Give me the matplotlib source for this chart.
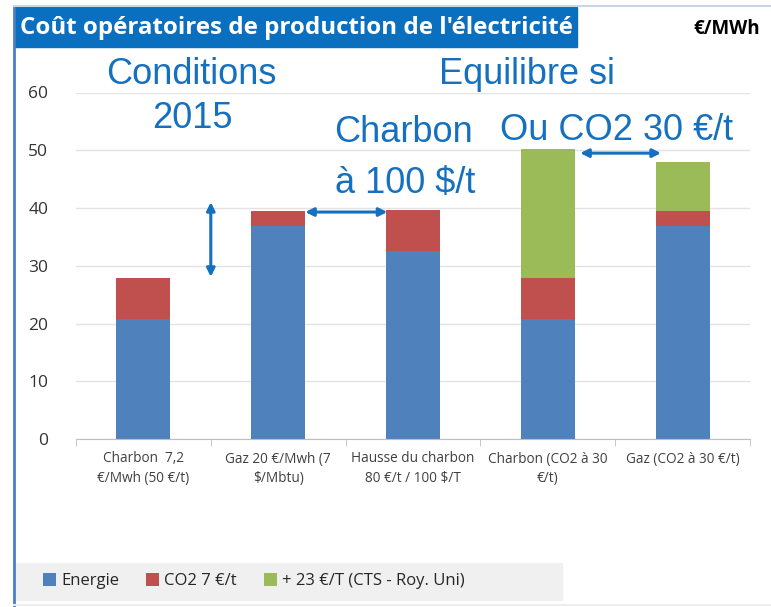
import matplotlib.pyplot as plt
import numpy as np
from matplotlib.patches import Rectangle
from matplotlib.lines import Line2D

# données (€/MWh)
categories = ["Charbon  7,2\n€/Mwh (50 €/t)", "Gaz 20 €/Mwh (7\n$/Mbtu)",
              "Hausse du charbon\n80 €/t / 100 $/T", "Charbon (CO2 à 30\n€/t)",
              "Gaz (CO2 à 30 €/t)"]
energie = [20.7, 36.8, 32.6, 20.7, 36.8]
co2_7 = [7.2, 2.7, 7.1, 7.2, 2.7]
co2_23 = [0, 0, 0, 22.4, 8.5]
series_labels = ["Energie", "CO2 7 €/t", "+ 23 €/T (CTS - Roy. Uni)"]
colors = ["#4f81bd", "#c0504d", "#9bbb59"]
blue_txt = "#1570bf"

plt.rcParams['font.family'] = ['Open Sans', 'DejaVu Sans']

fig = plt.figure(figsize=(7.71, 6.07), dpi=100)
ax = fig.add_axes([76/771, 1-439/607, (750-76)/771, (439-92.5)/607])

x = np.arange(len(categories))
w = 0.4
bottom2 = np.array(energie) + np.array(co2_7)
ax.bar(x, energie, w, color=colors[0], label=series_labels[0], zorder=2)
ax.bar(x, co2_7, w, bottom=energie, color=colors[1], label=series_labels[1], zorder=2)
ax.bar(x, co2_23, w, bottom=bottom2, color=colors[2], label=series_labels[2], zorder=2)

ax.set_xlim(-0.5, len(categories) - 0.5)
ax.set_ylim(0, 60)
ax.set_yticks(range(0, 61, 10))
ax.grid(axis='y', color='#e3e3e3', lw=1, zorder=0)
for s in ['top', 'right', 'left']:
    ax.spines[s].set_visible(False)
ax.spines['bottom'].set_color('#bfbfbf')
ax.tick_params(axis='y', length=0, pad=20, labelsize=12.5, labelcolor='#333333')
ax.set_xticks(x)
ax.set_xticklabels(categories, fontsize=9.8, color='#404040', linespacing=1.45)
ax.tick_params(axis='x', length=0, pad=9)
ax.set_xticks(np.arange(-0.5, len(categories)), minor=True)
ax.tick_params(axis='x', which='minor', length=5, color='#bfbfbf')

# annotations
tkw = dict(color=blue_txt, fontsize=26, ha='center', va='center',
           family=['Liberation Sans', 'DejaVu Sans'])
fig.text(191/771, 1-75/607, "Conditions", **tkw)
fig.text(192/771, 1-118/607, "2015", **tkw)
fig.text(527/771, 1-75/607, "Equilibre si", **tkw)
fig.text(404/771, 1-132/607, "Charbon", **tkw)
fig.text(405/771, 1-184/607, "à 100 $/t", **tkw)
fig.text(617/771, 1-130/607, "Ou CO2 30 €/t", **tkw)

akw = dict(arrowstyle='<|-|>', color=blue_txt, lw=2.2, mutation_scale=12)
ax.annotate("", xy=(0.5, 41.5), xytext=(0.5, 27.6), arrowprops=akw)
ax.annotate("", xy=(1 + w/2 - 0.02, bottom2[1] - 0.2), xytext=(2 - w/2 + 0.03, bottom2[1] - 0.2),
            arrowprops=akw, annotation_clip=False)
ax.annotate("", xy=(3 + w/2 + 0.02, 49.5), xytext=(4 - w/2 + 0.06, 49.5),
            arrowprops=akw, annotation_clip=False)

# cadre / titre
fig.add_artist(Line2D([14/771, 14/771], [0, 1-6/607], color='#4a7fc1', lw=2))
fig.add_artist(Line2D([14/771, 1], [1-6/607, 1-6/607], color='#c9d6e6', lw=1.5))
fig.add_artist(Line2D([14/771, 1], [1-605/607, 1-605/607], color='#eeeeee', lw=1.5))
fig.add_artist(Rectangle((15/771, 1-47/607), (577-15)/771, 40/607,
                         transform=fig.transFigure, color='#0a6fbe'))
fig.text(20/771, 1-28/607, "Coût opératoires de production de l'électricité",
         color='white', fontsize=17.4, fontweight='bold', ha='left', va='center')
fig.text(760/771, 1-29/607, "€/MWh", color='black', fontsize=13.5,
         fontweight='bold', ha='right', va='center')

# légende
fig.add_artist(Rectangle((16/771, 1-600/607), (562-16)/771, 37/607,
                         transform=fig.transFigure, color='#f0f0f0'))
h, l = ax.get_legend_handles_labels()
fig.legend(h, l, loc='center left', bbox_to_anchor=(28/771, 1-581/607), ncol=3,
           frameon=False, fontsize=12, handlelength=0.8, handleheight=0.8,
           handletextpad=0.3, columnspacing=1.6, labelcolor='#262626')

fig.savefig("out.png", dpi=100)
